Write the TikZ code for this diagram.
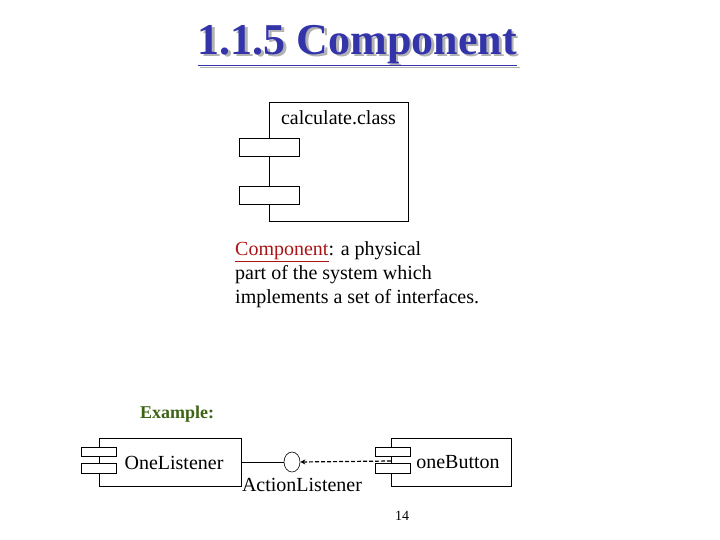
\documentclass[tikz,border=0pt]{standalone}
\usepackage{fontspec}
\setmainfont{Liberation Serif}
\usetikzlibrary{arrows.meta,shapes.geometric}
\definecolor{ttl}{RGB}{51,51,170}
\definecolor{exg}{RGB}{60,100,20}
\definecolor{cred}{RGB}{170,20,20}
\tikzset{box/.style={draw,line width=0.6pt,fill=white},
 txt/.style={inner sep=0,font=\fontsize{20}{24}\selectfont}}
\begin{document}
\begin{tikzpicture}[x=1pt,y=-1pt]
\useasboundingbox (0,0) rectangle (720,540);
% title
\node[font=\bfseries\fontsize{44}{48}\selectfont,text=gray!60] (ts) at (360,48) {\underline{1.1.5 Component}};
\node[font=\bfseries\fontsize{44}{48}\selectfont,text=ttl] (t) at (357.5,45.5) {\underline{1.1.5 Component}};
% component
\node[box,minimum width=139,minimum height=119,anchor=north west] (c) at (269,102) {};
\node[txt,anchor=north] (cl) at (338.5,110) {calculate.class};
\node[box,minimum width=60,minimum height=18,anchor=north west] (r1) at (239,138) {};
\node[box,minimum width=60,minimum height=18,anchor=north west] (r2) at (239,186) {};
\node[txt,anchor=north west,align=left,font=\fontsize{20}{24}\selectfont] (d) at (235,241) {\textcolor{cred}{\underline{Component}}: a physical\\part of the system which\\implements a set of interfaces.};
\node[anchor=west,inner sep=0,text=exg,font=\bfseries\fontsize{18}{20}\selectfont] (ex) at (140,414) {Example:};
% OneListener
\node[box,minimum width=142,minimum height=48,anchor=north west] (ol) at (99,438) {};
\node[box,minimum width=35,minimum height=9,anchor=north west] (o1) at (81,447) {};
\node[box,minimum width=35,minimum height=10,anchor=north west] (o2) at (81,463) {};
\node[txt] (olt) at (174,463) {OneListener};
% oneButton
\node[box,minimum width=120,minimum height=48,anchor=north west] (ob) at (391,438) {};
\node[box,minimum width=35,minimum height=9,anchor=north west] (b1) at (375,447) {};
\node[box,minimum width=35,minimum height=10,anchor=north west] (b2) at (375,463) {};
\node[txt] (obt) at (458,462) {oneButton};
% interface
\node[draw,ellipse,line width=0.6pt,minimum width=16,minimum height=20,inner sep=0] (ci) at (292,462) {};
\draw[line width=0.6pt] (ol.east|-ci) -- (ci.west);
\coordinate (ds) at (391,461);
\draw[line width=1.2pt,dash pattern=on 4pt off 2pt,-{Stealth[length=5pt,width=5pt]}] (ds) -- (ci.east);
\node[txt] (al) at (302,485) {ActionListener};
\node[inner sep=0,font=\fontsize{14}{16}\selectfont] (pg) at (402,516) {14};
\end{tikzpicture}
\end{document}
